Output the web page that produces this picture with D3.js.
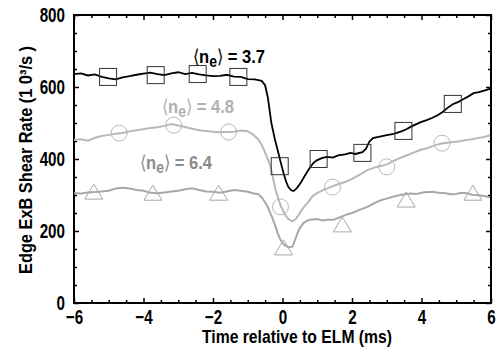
<!DOCTYPE html>
<html>
<head>
<meta charset="utf-8">
<script src="https://cdn.jsdelivr.net/npm/d3@7"></script>
<style>
  body { margin: 0; background: #fff; }
  text { font-family: "Liberation Sans", Arial, Helvetica, sans-serif; font-weight: bold; }
</style>
</head>
<body>
<script>
// traces: [time (ms), shear rate (10^3/s)]
var ne37 = [[-6,636],[-5.8,638],[-5.6,632],[-5.4,635],[-5.2,628],[-5.0,624],[-4.8,621],[-4.6,627],[-4.4,630],[-4.2,634],
  [-4.0,637],[-3.8,640],[-3.6,636],[-3.4,633],[-3.2,638],[-3.0,641],[-2.8,636],[-2.6,639],[-2.4,635],[-2.2,632],
  [-2.0,630],[-1.8,631],[-1.6,634],[-1.4,629],[-1.2,628],[-1.0,622],[-0.8,621],[-0.6,617],[-0.5,605],[-0.42,570],
  [-0.32,500],[-0.22,455],[-0.14,425],[-0.05,390],[0.03,361],[0.1,338],[0.17,322],[0.25,313],[0.32,311],[0.42,320],
  [0.52,333],[0.65,355],[0.8,378],[0.9,390],[1.0,397],[1.15,403],[1.29,406],[1.45,404],[1.6,410],[1.8,413],
  [1.95,417],[2.1,414],[2.3,419],[2.4,428],[2.5,448],[2.6,458],[2.8,462],[3.0,466],[3.2,470],[3.4,476],
  [3.55,482],[3.7,490],[3.85,497],[4.0,503],[4.15,508],[4.3,514],[4.45,521],[4.6,530],[4.75,542],[4.9,552],
  [5.05,558],[5.2,566],[5.35,574],[5.5,583],[5.65,586],[5.8,590],[5.9,593],[6.0,596]];

var ne48 = [[-6,453],[-5.8,455],[-5.6,451],[-5.4,459],[-5.2,464],[-5.0,467],[-4.8,470],[-4.6,472],[-4.4,477],[-4.2,480],
  [-4.0,483],[-3.8,486],[-3.6,488],[-3.4,492],[-3.2,497],[-3.0,493],[-2.8,489],[-2.6,484],[-2.4,480],[-2.2,478],
  [-2.0,476],[-1.8,474],[-1.6,475],[-1.4,476],[-1.2,479],[-1.0,477],[-0.85,468],[-0.7,455],[-0.6,440],[-0.5,418],
  [-0.42,398],[-0.34,378],[-0.27,345],[-0.2,314],[-0.12,290],[-0.06,272],[0.05,250],[0.14,236],[0.22,230],[0.29,227],
  [0.38,233],[0.46,244],[0.6,265],[0.72,278],[0.85,295],[1.0,306],[1.2,315],[1.38,322],[1.6,330],[1.8,336],
  [1.95,342],[2.2,355],[2.44,369],[2.7,378],[2.85,381],[3.0,385],[3.2,395],[3.39,403],[3.55,409],[3.7,415],
  [3.96,425],[4.15,430],[4.3,435],[4.45,440],[4.62,444],[4.8,446],[5.0,448],[5.15,450],[5.3,453],[5.45,455],
  [5.6,458],[5.8,461],[5.97,466]];

var ne64 = [[-6,305],[-5.8,304],[-5.6,307],[-5.4,308],[-5.2,310],[-5.0,312],[-4.8,318],[-4.6,320],[-4.4,318],[-4.2,314],
  [-4.0,312],[-3.8,306],[-3.6,305],[-3.4,307],[-3.2,310],[-3.0,312],[-2.8,316],[-2.6,319],[-2.4,314],[-2.2,310],
  [-2.0,309],[-1.8,306],[-1.6,310],[-1.4,314],[-1.2,312],[-1.0,309],[-0.85,305],[-0.7,302],[-0.6,293],[-0.5,280],
  [-0.43,268],[-0.36,252],[-0.29,236],[-0.2,212],[-0.14,194],[-0.07,178],[0.0,167],[0.07,160],[0.14,156],[0.22,155],
  [0.29,157],[0.36,175],[0.43,194],[0.5,208],[0.6,222],[0.7,228],[0.8,231],[1.0,233],[1.15,229],[1.29,231],
  [1.46,231],[1.6,236],[1.7,240],[1.85,246],[2.0,250],[2.2,258],[2.44,267],[2.6,275],[2.7,280],[2.85,286],
  [3.0,290],[3.2,296],[3.39,300],[3.55,303],[3.7,304],[3.85,303],[4.0,306],[4.15,308],[4.34,308],[4.5,306],
  [4.7,305],[4.85,302],[5.0,303],[5.15,306],[5.3,305],[5.45,301],[5.6,300],[5.8,297],[5.97,294]];

// symbol positions
var sq37 = [[-5.02,628],[-3.65,633],[-2.44,636],[-1.27,628],[-0.08,380],[1.04,400],[2.3,417],[3.48,478],[4.9,553]];
var ci48 = [[-4.7,472],[-3.13,494],[-1.55,475],[-0.06,267],[1.44,322],[3.0,378],[4.59,444]];
var tr64 = [[-5.43,308],[-3.73,305],[-1.84,305],[0.03,153],[1.72,217],[3.56,286],[5.48,305]];

var xTicks = [-6, -4, -2, 0, 2, 4, 6];
var yTicks = [0, 200, 400, 600, 800];

var margin = {top: 15, right: 7, bottom: 47, left: 74},
    width = 498 - margin.left - margin.right,
    height = 350 - margin.top - margin.bottom;

var svg = d3.select("body")
    .append("svg")
        .attr("width", 498)
        .attr("height", 350)
    .append("g")
        .attr("transform", "translate(" + margin.left + "," + margin.top + ")");

var x = d3.scaleLinear().domain([-6, 6]).range([0, width]);
var y = d3.scaleLinear().domain([0, 800]).range([height, 0]);

var xMinor = d3.range(-6, 6.01, 0.5).filter(function(d) { return xTicks.indexOf(d) < 0; });
var yMinor = d3.range(0, 801, 50).filter(function(d) { return yTicks.indexOf(d) < 0; });

// the original uses a narrow bold face, so squeeze the text horizontally
function squeeze(sel, k) {
    sel.each(function() {
        var w = this.getComputedTextLength();
        d3.select(this).attr("textLength", w * k).attr("lengthAdjust", "spacingAndGlyphs");
    });
}

// axes with inward ticks on all four sides
function styleAxis(g) {
    g.select(".domain").remove();
    g.selectAll("line").attr("stroke", "#000").attr("stroke-width", 1.5);
    g.selectAll("text").attr("font-size", 20).attr("fill", "#000").call(squeeze, 0.76);
}

svg.append("g")
    .attr("transform", "translate(0," + height + ")")
    .call(d3.axisBottom(x).tickValues(xTicks).tickSize(-5).tickPadding(7).tickFormat(d3.format("d")))
    .call(styleAxis);
svg.append("g")
    .attr("transform", "translate(0," + height + ")")
    .call(d3.axisBottom(x).tickValues(xMinor).tickSize(-3).tickFormat(""))
    .call(styleAxis);
svg.append("g")
    .call(d3.axisTop(x).tickValues(xTicks).tickSize(-5).tickFormat(""))
    .call(styleAxis);
svg.append("g")
    .call(d3.axisTop(x).tickValues(xMinor).tickSize(-3).tickFormat(""))
    .call(styleAxis);

svg.append("g")
    .call(d3.axisLeft(y).tickValues(yTicks).tickSize(-5).tickPadding(9).tickFormat(d3.format("d")))
    .call(styleAxis);
svg.append("g")
    .call(d3.axisLeft(y).tickValues(yMinor).tickSize(-3).tickFormat(""))
    .call(styleAxis);
svg.append("g")
    .attr("transform", "translate(" + width + ",0)")
    .call(d3.axisRight(y).tickValues(yTicks).tickSize(-5).tickFormat(""))
    .call(styleAxis);
svg.append("g")
    .attr("transform", "translate(" + width + ",0)")
    .call(d3.axisRight(y).tickValues(yMinor).tickSize(-3).tickFormat(""))
    .call(styleAxis);

// frame
svg.append("rect")
    .attr("x", 0).attr("y", 0)
    .attr("width", width).attr("height", height)
    .attr("fill", "none")
    .attr("stroke", "#000")
    .attr("stroke-width", 2);

var line = d3.line()
    .x(function(d) { return x(d[0]); })
    .y(function(d) { return y(d[1]); });

svg.append("path").datum(ne64)
    .attr("d", line).attr("fill", "none")
    .attr("stroke", "#a8a8a8").attr("stroke-width", 2);
svg.append("path").datum(ne48)
    .attr("d", line).attr("fill", "none")
    .attr("stroke", "#b8b8b8").attr("stroke-width", 2);
svg.append("path").datum(ne37)
    .attr("d", line).attr("fill", "none")
    .attr("stroke", "#000").attr("stroke-width", 1.8);

// markers
svg.selectAll(".sq")
    .data(sq37)
    .enter()
    .append("rect")
        .attr("x", function(d) { return x(d[0]) - 8.5; })
        .attr("y", function(d) { return y(d[1]) - 8.5; })
        .attr("width", 17).attr("height", 17)
        .attr("fill", "none").attr("stroke", "#333").attr("stroke-width", 1);

svg.selectAll(".ci")
    .data(ci48)
    .enter()
    .append("circle")
        .attr("cx", function(d) { return x(d[0]); })
        .attr("cy", function(d) { return y(d[1]); })
        .attr("r", 8)
        .attr("fill", "none").attr("stroke", "#b8b8b8").attr("stroke-width", 1);

svg.selectAll(".tr")
    .data(tr64)
    .enter()
    .append("path")
        .attr("d", function(d) {
            var cx = x(d[0]), cy = y(d[1]);
            return "M" + (cx - 9) + "," + (cy + 7) + "L" + (cx + 9) + "," + (cy + 7) + "L" + cx + "," + (cy - 8) + "Z";
        })
        .attr("fill", "none").attr("stroke", "#a8a8a8").attr("stroke-width", 1);

// density labels
function neLabel(px, py, val, col) {
    var t = svg.append("text")
        .attr("x", px).attr("y", py)
        .attr("font-size", 19)
        .attr("textLength", 72)
        .attr("lengthAdjust", "spacingAndGlyphs")
        .attr("fill", col);
    t.append("tspan").attr("font-weight", "normal").text("\u27E8");
    t.append("tspan").text("n");
    t.append("tspan").attr("font-size", 16).attr("dy", 4).text("e");
    t.append("tspan").attr("dy", -4).attr("font-weight", "normal").text("\u27E9");
    t.append("tspan").text(" = " + val);
}
neLabel(193 - margin.left, 63 - margin.top, "3.7", "#000");
neLabel(162 - margin.left, 113 - margin.top, "4.8", "#b0b0b0");
neLabel(140 - margin.left, 169 - margin.top, "6.4", "#8c8c8c");

//x-axis label (start anchored so the squeeze does not shift it)
svg.append("text")
    .attr("x", 202 - margin.left)
    .attr("y", height + 40)
    .attr("font-size", 19)
    .attr("textLength", 190)
    .attr("lengthAdjust", "spacingAndGlyphs")
    .text("Time relative to ELM (ms)");

//y-axis label, one text node so textLength applies; runs upward from y = 274 to y = 46
svg.append("text")
    .attr("transform", "rotate(-90)")
    .attr("x", -(274 - margin.top))
    .attr("y", -42)
    .attr("font-size", 18)
    .attr("textLength", 228)
    .attr("lengthAdjust", "spacingAndGlyphs")
    .text("Edge ExB Shear Rate (1 0\u00B3/s )");
</script>
</body>
</html>
